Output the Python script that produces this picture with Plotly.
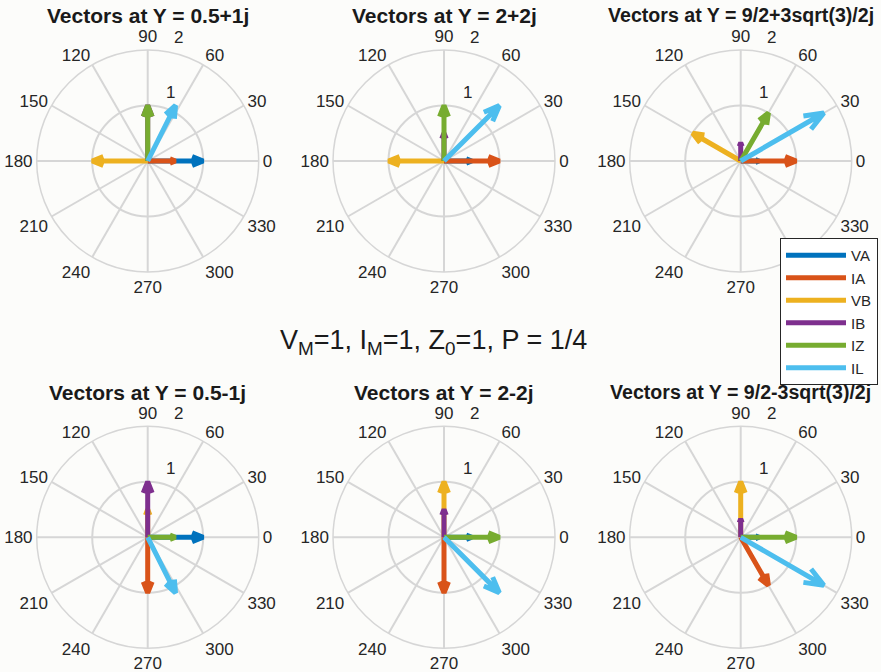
import numpy as np
import plotly.graph_objects as go

W, H = 881, 672

# ---------------- data ----------------
titles = ["Vectors at Y = 0.5+1j", "Vectors at Y = 2+2j", "Vectors at Y = 9/2+3sqrt(3)/2j",
          "Vectors at Y = 0.5-1j", "Vectors at Y = 2-2j", "Vectors at Y = 9/2-3sqrt(3)/2j"]
series = ["VA", "IA", "VB", "IB", "IZ", "IL"]
colors = ["#0072BD", "#D95319", "#EDB120", "#7E2F8E", "#77AC30", "#4DBEEE"]

# magnitudes / angles (deg) per panel
VA_mag = [1.0, 0.5, 0.33, 1.0, 0.5, 0.33]
VA_ang = [0, 0, 0, 0, 0, 0]
IA_mag = [0.5, 1.0, 1.0, 1.0, 1.0, 1.0]
IA_ang = [0, 0, 0, 270, 270, 300]
VB_mag = [1.0, 1.0, 1.0, 0.5, 1.0, 1.0]
VB_ang = [180, 180, 150, 90, 90, 90]
IB_mag = [1.0, 0.5, 0.33, 1.0, 0.5, 0.33]
IB_ang = [90, 90, 90, 90, 90, 90]
IZ_mag = [1.0, 1.0, 1.0, 0.5, 1.0, 1.0]
IZ_ang = [90, 90, 60, 0, 0, 0]
IL_mag = [1.12, 1.41, 1.73, 1.12, 1.41, 1.73]
IL_ang = [63.4, 45, 30, -63.4, -45, -30]

mags = [VA_mag, IA_mag, VB_mag, IB_mag, IZ_mag, IL_mag]
angs = [VA_ang, IA_ang, VB_ang, IB_ang, IZ_ang, IL_ang]

theta_ticks = list(range(0, 360, 30))
r_ticks = [1, 2]
r_max = 2

suptitle = "V<sub>M</sub>=1, I<sub>M</sub>=1, Z<sub>0</sub>=1, P = 1/4"

# ---------------- layout geometry ----------------
cxs = [147.7, 444.0, 740.7]
cys = [161.0, 537.3]
R = 111.0
unit = R / r_max
title_sizes = [21, 21, 19.6]

FONT = "Liberation Sans, Arial, Helvetica, sans-serif"
TXT = "#262626"
GRID = "#d6d6d6"

fig = go.Figure()

# compass arrow shape (MATLAB compass)
arrow = np.array([0, 1, 0.8 + 0.08j, 1, 0.8 - 0.08j])

for p in range(6):
    sub = "polar" if p == 0 else f"polar{p+1}"
    for s in range(6):
        z = mags[s][p] * np.exp(1j * np.deg2rad(angs[s][p]))
        pts = arrow * z
        fig.add_trace(go.Scatterpolar(
            r=np.abs(pts), theta=np.rad2deg(np.angle(pts)),
            mode="lines", line=dict(color=colors[s], width=5),
            name=series[s], legendgroup=series[s], showlegend=(p == 0),
            subplot=sub, hoverinfo="skip"))

layout = dict(
    width=W, height=H, margin=dict(l=0, r=0, t=0, b=0),
    paper_bgcolor="#fcfcfa", plot_bgcolor="#fcfcfa",
    font=dict(family=FONT, color=TXT, size=17),
    showlegend=True,
    legend=dict(x=780 / W, y=1 - 238 / H, xanchor="left", yanchor="top",
                bgcolor="white", bordercolor="#262626", borderwidth=1,
                font=dict(size=15, color=TXT, family=FONT), tracegroupgap=0,
                itemwidth=60),
)

annotations = []
a82 = np.deg2rad(82)
for p in range(6):
    row, col = divmod(p, 3)
    cx, cy = cxs[col], cys[row]
    key = "polar" if p == 0 else f"polar{p+1}"
    layout[key] = dict(
        domain=dict(x=[(cx - R) / W, (cx + R) / W], y=[1 - (cy + R) / H, 1 - (cy - R) / H]),
        bgcolor="rgba(0,0,0,0)",
        radialaxis=dict(range=[0, r_max], tickvals=r_ticks, showticklabels=False, ticks="",
                        showline=False, showgrid=True, gridcolor=GRID, gridwidth=1.5),
        angularaxis=dict(tickvals=theta_ticks, ticktext=[str(t) for t in theta_ticks],
                         direction="counterclockwise", rotation=0, ticks="",
                         showline=True, linecolor=GRID, linewidth=1.5,
                         showgrid=True, gridcolor=GRID, gridwidth=1.5,
                         tickfont=dict(size=17, color=TXT, family=FONT)),
    )
    # radial tick labels, MATLAB style near 82 degrees
    for t in r_ticks:
        X = (t + 0.05) * np.cos(a82) + 0.27
        Y = (t + 0.05) * np.sin(a82) + 0.20
        annotations.append(dict(text=str(t), x=(cx + X * unit) / W, y=1 - (cy - Y * unit) / H,
                                xref="paper", yref="paper", showarrow=False,
                                xanchor="center", yanchor="middle",
                                font=dict(size=17, color=TXT, family=FONT)))
    ty = 15 if row == 0 else 392
    annotations.append(dict(text=f"<b>{titles[p]}</b>", x=cx / W, y=1 - ty / H,
                            xref="paper", yref="paper", showarrow=False,
                            xanchor="center", yanchor="middle",
                            font=dict(size=title_sizes[col], color="#1a1a1a", family=FONT)))

annotations.append(dict(text=suptitle, x=433 / W, y=1 - 342 / H, xref="paper", yref="paper",
                        showarrow=False, xanchor="center", yanchor="middle",
                        font=dict(size=27, color="#1a1a1a", family=FONT)))
layout["annotations"] = annotations
fig.update_layout(**layout)

fig.write_html("out.html")
